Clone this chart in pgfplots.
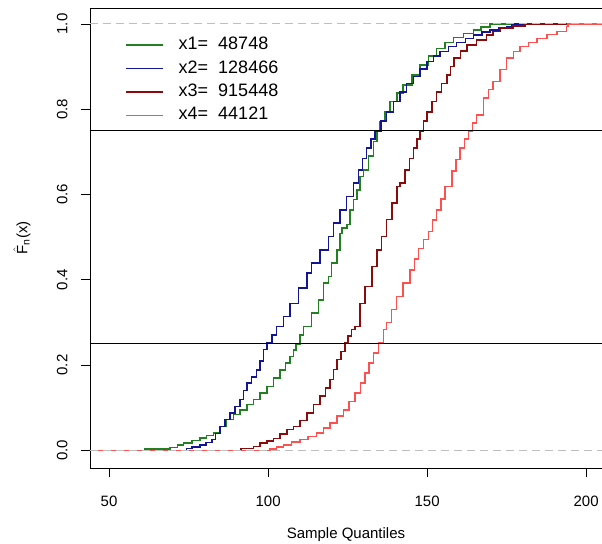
\documentclass[border=0pt]{standalone}
\usepackage{pgfplots}
\pgfplotsset{compat=1.18}
\usepackage{amsmath}
\usepackage{fontspec}
\setmainfont{Liberation Sans}
\definecolor{cgreen}{RGB}{34,128,34}
\definecolor{cblue}{RGB}{20,20,150}
\definecolor{cdred}{RGB}{139,10,10}
\definecolor{cred}{RGB}{255,80,80}
\definecolor{cgray}{RGB}{190,190,190}
\begin{document}
\begin{tikzpicture}
\path[use as bounding box] (-90bp,-76bp) rectangle (512bp,468bp);
\begin{axis}[
  at={(0,0)}, anchor=south west,
  scale only axis, width=512bp, height=460bp,
  xmin=44, xmax=205, ymin=-0.0414, ymax=1.0375,
  axis lines*=left, axis line style={-, line width=0.9bp},
  tick align=outside, major tick length=9bp,
  tick style={line width=0.9bp, black},
  xtick={50,100,150,200}, xticklabels={50,100,150,200},
  ytick={0,0.2,0.4,0.6,0.8,1.0}, yticklabels={0.0,0.2,0.4,0.6,0.8,1.0},
  ticklabel style={font=\fontsize{15bp}{18bp}\selectfont},
  xticklabel style={yshift=-16bp},
  yticklabel style={rotate=90, anchor=south, xshift=0bp, yshift=10bp},
  xlabel={Sample Quantiles},
  ylabel={$\hat{\text{F}}_{\text{n}}\text{(x)}$},
  label style={font=\fontsize{15bp}{18bp}\selectfont},
  xlabel style={at={(axis description cs:0.5,-0.1457)}, anchor=center},
  ylabel style={at={(axis description cs:-0.133,0.5)}, anchor=center},
  clip=true,
  legend style={draw=none, fill=none, at={(axis description cs:0.0684,0.938)}, anchor=north west,
    font=\fontsize{18bp}{22bp}\selectfont, row sep=6.4bp, inner sep=0pt,
    nodes={inner sep=0pt, text height=13bp, text depth=4bp}},
  legend cell align=left,
  legend image code/.code={\draw[#1, line width=1.5bp] (0bp,0bp) -- (37bp,0bp); \path (52bp,0bp);},
]
\addplot[const plot, cgreen, line width=1.5bp] coordinates {
(44,0) (61.3,0.003) (69.2,0.007) (71.5,0.012) (73.4,0.017) (76,0.023) (78.6,0.029) (80.7,0.035)
(82.8,0.041) (84.9,0.056) (87,0.072) (89.1,0.084) (91.2,0.095) (93.3,0.107) (95.4,0.119)
(97.5,0.134) (99.6,0.15) (101.7,0.17) (103.8,0.189) (105.4,0.205) (106.9,0.22) (108,0.235)
(108.8,0.25) (110,0.27) (111.1,0.291) (113.7,0.322) (115.8,0.353) (117.4,0.392) (119,0.408)
(120,0.439) (121.6,0.470) (122.6,0.509) (123.2,0.521) (124.8,0.53) (125.8,0.564) (126.8,0.588)
(127.9,0.611) (128.9,0.642) (130,0.658) (131.5,0.69) (133.1,0.724) (134.2,0.748) (135.2,0.771)
(136.8,0.795) (138.4,0.818) (140.5,0.838) (142.5,0.857) (145.2,0.88) (147.8,0.904) (150.4,0.925)
(153,0.943) (155.7,0.956) (158.3,0.968) (161.5,0.978) (164.6,0.986) (167,0.993) (169.8,1) (205,1)};
\addlegendentry{x1=\ \ 48748}
\addplot[const plot, cblue, line width=1.5bp] coordinates {
(44,0) (74.4,0.004) (76,0.008) (78.6,0.013) (80.5,0.018) (82.3,0.025) (83.5,0.04) (84.9,0.056)
(86.5,0.072) (88,0.088) (89.6,0.103) (91.2,0.119) (92.2,0.14) (93.3,0.158) (94.8,0.172)
(96.4,0.189) (97.4,0.21) (98.5,0.236) (99.6,0.252) (101.2,0.27) (102.7,0.291) (104.8,0.314)
(106.9,0.345) (109.5,0.381) (112.2,0.416) (113.7,0.439) (116.4,0.470) (119,0.502) (120.5,0.533)
(122.6,0.564) (124.7,0.595) (126.8,0.627) (128.4,0.658) (129.7,0.685) (131,0.709) (132.3,0.73)
(133.6,0.748) (135.5,0.772) (137.3,0.794) (139.4,0.818) (141.5,0.841) (143.6,0.86) (145.7,0.877)
(147.8,0.895) (149.9,0.912) (152,0.925) (154.1,0.935) (156.7,0.947) (159.3,0.957) (162,0.966)
(164.6,0.974) (167.2,0.981) (169.8,0.986) (172.4,0.99) (175,0.994) (176.6,1) (205,1)};
\addlegendentry{x2=\ \ 128466}
\addplot[const plot, cdred, line width=1.5bp] coordinates {
(44,0) (91.5,0.004) (95.4,0.009) (97.5,0.017) (99.6,0.022) (101.7,0.028) (103.8,0.038)
(105.9,0.049) (108,0.056) (110,0.07) (112.2,0.088) (114.3,0.107) (116.4,0.127) (118,0.146)
(119.5,0.166) (120.5,0.19) (121.6,0.213) (122.9,0.232) (124.2,0.252) (125.2,0.268) (126.3,0.283)
(127.4,0.291) (128.9,0.345) (130.5,0.384) (132.6,0.431) (134.2,0.470) (135.7,0.502) (137.3,0.541)
(138.9,0.580) (140.5,0.619) (141.5,0.627) (143.1,0.658) (144.4,0.684) (145.7,0.709) (146.8,0.73)
(147.8,0.748) (148.9,0.772) (149.9,0.794) (151.5,0.818) (153,0.841) (154.6,0.86) (156.2,0.88)
(157.3,0.9) (158.5,0.92) (160.5,0.937) (162.5,0.951) (165.6,0.963) (168.7,0.974) (170.8,0.982)
(173,0.99) (177,0.995) (180.8,1) (205,1)};
\addlegendentry{x3=\ \ 915448}
\addplot[const plot, cred, line width=1.5bp] coordinates {
(44,0) (100.6,0.003) (102.7,0.008) (104.8,0.013) (107.4,0.019) (110,0.025) (112.6,0.033)
(115.3,0.041) (117.4,0.052) (119.5,0.064) (121.6,0.08) (123.7,0.095) (125.5,0.114) (127.4,0.134)
(129,0.158) (130.5,0.181) (131.8,0.205) (133.1,0.228) (134.7,0.252) (136.3,0.283) (137.3,0.30)
(138.8,0.33) (140.4,0.361) (142.5,0.392) (144.7,0.423) (146,0.449) (147.3,0.474) (148.9,0.494)
(150.4,0.513) (151.7,0.54) (153,0.564) (154.4,0.59) (155.7,0.619) (157.9,0.655) (159.1,0.682)
(160.4,0.709) (161.7,0.73) (163,0.748) (164.3,0.768) (165.6,0.787) (167.7,0.826) (169.3,0.846)
(170.8,0.865) (172.9,0.893) (175,0.92) (177.1,0.935) (179.2,0.947) (181.9,0.957) (184.5,0.966)
(187.7,0.975) (190.8,0.982) (193.9,0.994) (194.3,1) (205,1)};
\addlegendentry{x4=\ \ 44121}
\addplot[forget plot, cgray, line width=1bp, dash pattern=on 8bp off 5bp] coordinates {(44,0) (205,0)};
\addplot[forget plot, cgray, line width=1bp, dash pattern=on 8bp off 5bp] coordinates {(44,1) (205,1)};
\addplot[forget plot, black, line width=1bp] coordinates {(44,0.25) (205,0.25)};
\addplot[forget plot, black, line width=1bp] coordinates {(44,0.75) (205,0.75)};
\draw[line width=0.9bp] (rel axis cs:0,1) -- (rel axis cs:1,1);
\end{axis}
\end{tikzpicture}
\end{document}
